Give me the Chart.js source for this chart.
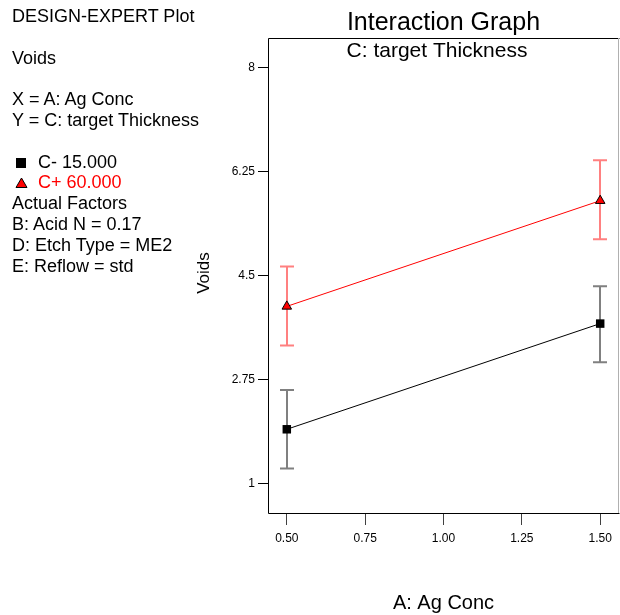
<!DOCTYPE html>
<html>
<head>
<meta charset="utf-8">
<script src="https://cdn.jsdelivr.net/npm/chart.js@4.4.1/dist/chart.umd.min.js"></script>
<style>
  html, body { margin: 0; padding: 0; background: #fff; }
  #wrap { position: relative; width: 620px; height: 615px; }
  #grafico { position: absolute; left: 0; top: 0; }
  #painel { position: absolute; left: 12px; top: 6px; font: 18px "Liberation Sans", Arial, sans-serif; line-height: 20.8px; color: #000; }
  #painel div { height: 20.8px; white-space: nowrap; }
  .marca { display: inline-block; width: 26px; }
  .vermelho { color: #ff0000; }
</style>
</head>
<body>
<div id="wrap">
  <canvas id="grafico" width="620" height="615"></canvas>
  <div id="painel">
    <div>DESIGN-EXPERT Plot</div>
    <div></div>
    <div>Voids</div>
    <div></div>
    <div>X = A: Ag Conc</div>
    <div>Y = C: target Thickness</div>
    <div></div>
    <div><span class="marca"><svg width="14" height="12" style="vertical-align:-1px"><rect x="4" y="1" width="10" height="10" fill="#000"/></svg></span>C- 15.000</div>
    <div class="vermelho"><span class="marca"><svg width="16" height="12" style="vertical-align:-1px"><polygon points="9.5,1 15,10.5 4,10.5" fill="#ff0000" stroke="#000" stroke-width="1"/></svg></span>C+ 60.000</div>
    <div>Actual Factors</div>
    <div>B: Acid N = 0.17</div>
    <div>D: Etch Type = ME2</div>
    <div>E: Reflow = std</div>
  </div>
</div>
<script>
// Dados
const agConc = [0.5, 1.5];
const cMenos = [1.91, 3.69];
const cMenosBaixo = [1.25, 3.04];
const cMenosAlto = [2.57, 4.32];
const cMais = [3.98, 5.76];
const cMaisBaixo = [3.32, 5.11];
const cMaisAlto = [4.65, 6.44];
const ticksX = [0.5, 0.75, 1.0, 1.25, 1.5];
const ticksY = [1, 2.75, 4.5, 6.25, 8];

const fonte = '"Liberation Sans", Arial, sans-serif';

function pontos(xs, ys) {
    return xs.map(function (x, i) { return { x: x, y: ys[i] }; });
}

// Barras de erro
const barrasErro = {
    id: 'barrasErro',
    beforeDatasetsDraw: function (chart, args, opts) {
        const ctx = chart.ctx;
        const sx = chart.scales.x;
        const sy = chart.scales.y;
        opts.faixas.forEach(function (f, d) {
            ctx.save();
            ctx.strokeStyle = opts.cores[d];
            ctx.lineWidth = 2;
            agConc.forEach(function (x, i) {
                const px = Math.round(sx.getPixelForValue(x));
                const y1 = sy.getPixelForValue(f[0][i]);
                const y2 = sy.getPixelForValue(f[1][i]);
                ctx.beginPath();
                ctx.moveTo(px, y1);
                ctx.lineTo(px, y2);
                ctx.moveTo(px - 7, y1);
                ctx.lineTo(px + 7, y1);
                ctx.moveTo(px - 7, y2);
                ctx.lineTo(px + 7, y2);
                ctx.stroke();
            });
            ctx.restore();
        });
    }
};

// Moldura, subtitulo e titulo do eixo Y
const moldura = {
    id: 'moldura',
    afterDraw: function (chart) {
        const ctx = chart.ctx;
        const a = chart.chartArea;
        ctx.save();
        ctx.lineWidth = 1;
        ctx.strokeStyle = '#000';
        ctx.beginPath();
        ctx.moveTo(a.right + 0.5, a.top + 0.5);
        ctx.lineTo(a.left + 0.5, a.top + 0.5);
        ctx.lineTo(a.left + 0.5, a.bottom + 0.5);
        ctx.lineTo(a.right + 0.5, a.bottom + 0.5);
        ctx.stroke();
        ctx.strokeStyle = '#b0b0b0';
        ctx.beginPath();
        ctx.moveTo(a.right - 0.5, a.top);
        ctx.lineTo(a.right - 0.5, a.bottom);
        ctx.stroke();

        ctx.fillStyle = '#000';
        ctx.font = '21px ' + fonte;
        ctx.textAlign = 'center';
        ctx.textBaseline = 'alphabetic';
        ctx.fillText('C: target Thickness', 437, 57);

        ctx.translate(209, 273);
        ctx.rotate(-Math.PI / 2);
        ctx.font = '17px ' + fonte;
        ctx.textBaseline = 'alphabetic';
        ctx.fillText('Voids', 0, 0);
        ctx.restore();
    }
};

new Chart(document.getElementById('grafico'), {
    type: 'line',
    data: {
        datasets: [{
            label: 'C- 15.000',
            data: pontos(agConc, cMenos),
            borderColor: '#000000',
            borderWidth: 1,
            pointStyle: 'rect',
            pointRadius: 6,
            pointBackgroundColor: '#000000',
            pointBorderColor: '#000000',
            pointBorderWidth: 0,
            tension: 0
        }, {
            label: 'C+ 60.000',
            data: pontos(agConc, cMais),
            borderColor: '#ff0000',
            borderWidth: 1,
            pointStyle: 'triangle',
            pointRadius: 5.5,
            pointBackgroundColor: '#ff0000',
            pointBorderColor: '#000000',
            pointBorderWidth: 1,
            tension: 0
        }]
    },
    options: {
        responsive: false,
        animation: false,
        events: [],
        layout: { autoPadding: false, padding: { left: 0, right: 1, top: 0, bottom: 0 } },
        plugins: {
            legend: { display: false },
            tooltip: { enabled: false },
            title: {
                display: true,
                text: 'Interaction Graph',
                fullSize: false,
                color: '#000',
                font: { family: fonte, size: 25, weight: 'normal' },
                padding: { top: 8, bottom: 0 }
            },
            barrasErro: {
                faixas: [[cMenosBaixo, cMenosAlto], [cMaisBaixo, cMaisAlto]],
                cores: ['#808080', '#ff8080']
            }
        },
        scales: {
            x: {
                type: 'linear',
                min: 0.44,
                max: 1.56,
                afterBuildTicks: function (s) { s.ticks = ticksX.map(function (v) { return { value: v }; }); },
                afterFit: function (s) { s.height = 102; s.paddingLeft = 0; s.paddingRight = 0; },
                border: { display: false },
                grid: { drawOnChartArea: false, drawTicks: true, tickLength: 12, color: '#404040' },
                ticks: {
                    color: '#000',
                    padding: 6,
                    maxRotation: 0,
                    font: { family: fonte, size: 12 },
                    callback: function (v) { return Number(v).toFixed(2); }
                },
                title: {
                    display: true,
                    text: 'A: Ag Conc',
                    color: '#000',
                    font: { family: fonte, size: 20 },
                    padding: { top: 0, bottom: 0 }
                }
            },
            y: {
                type: 'linear',
                min: 0.5,
                max: 8.5,
                afterBuildTicks: function (s) { s.ticks = ticksY.map(function (v) { return { value: v }; }); },
                afterFit: function (s) { s.width = 268; s.paddingTop = 0; s.paddingBottom = 0; },
                border: { display: false },
                grid: { drawOnChartArea: false, drawTicks: true, tickLength: 10, color: '#000' },
                ticks: {
                    color: '#000',
                    padding: 3,
                    font: { family: fonte, size: 12 },
                    callback: function (v) { return String(v); }
                }
            }
        }
    },
    plugins: [barrasErro, moldura]
});
</script>
</body>
</html>
